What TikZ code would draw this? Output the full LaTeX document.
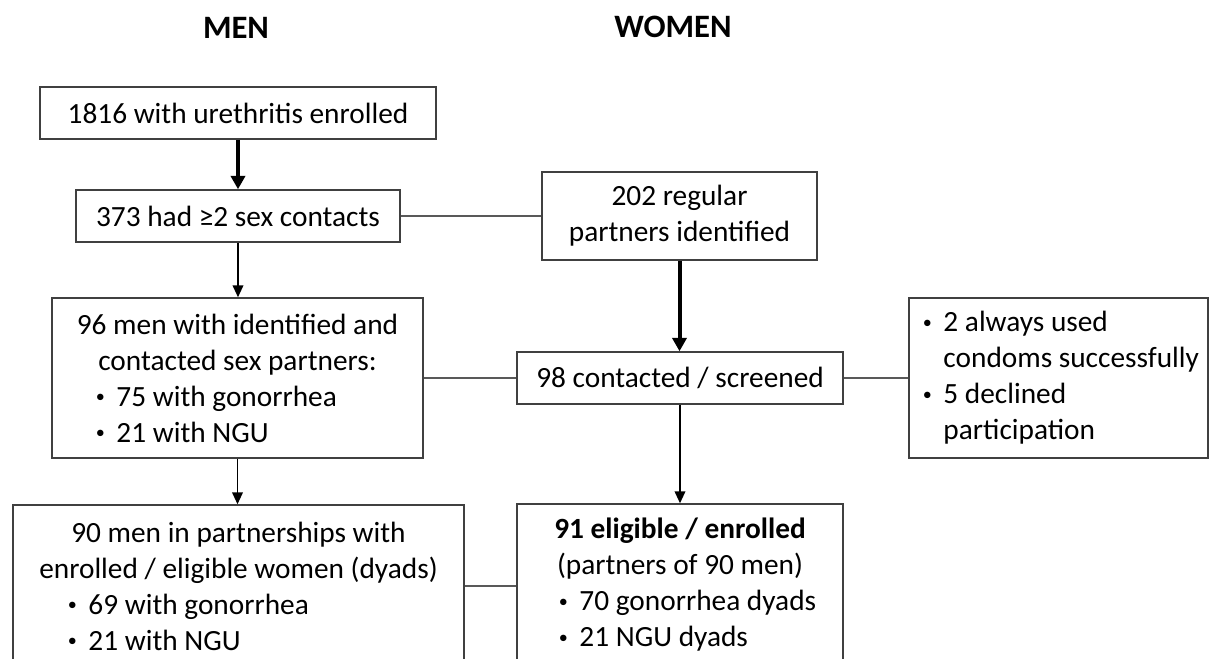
\documentclass[tikz,border=0pt]{standalone}
\usepackage{fontspec}
\usepackage{graphicx}
\setmainfont{Carlito}
\newfontfamily\dejavu{DejaVu Sans}
\usetikzlibrary{arrows.meta}
\definecolor{boxgray}{HTML}{404040}
\definecolor{linegray}{HTML}{595959}
\newlength\pxu \setlength\pxu{0.75pt}
\newcommand\bul{\makebox[0.8em][l]{\makebox[0.5em][c]{\raisebox{0.13em}{\scalebox{0.62}{•}}}}}
\newcommand\gesym{\iffontchar\font"2265 \symbol{"2265}\else{\dejavu\symbol{"2265}}\fi}
\newcommand\lline[3]{\makebox[#1\pxu][l]{\hspace*{#2\pxu}#3}}
\begin{document}
\begin{tikzpicture}[x=0.75pt,y=-0.75pt,
  box/.style={draw=boxgray, line width=1.1pt, inner sep=0pt, align=center,
    font=\fontsize{22}{27}\selectfont, text=black},
  conn/.style={draw=linegray, line width=1pt},
  thinarrow/.style={draw=black, line width=1.3pt, -{Triangle[width=8pt,length=9pt]}},
  thickarrow/.style={draw=black, line width=3pt, -{Triangle[width=10.5pt,length=10pt]}},
  title/.style={font=\bfseries\fontsize{24.5}{28}\selectfont, text=black}]
\useasboundingbox (0,0) rectangle (1210,658);
\clip (0,0) rectangle (1210,658);
\fill[white] (0,0) rectangle (1210,658);

\node[title] (tm) at (236,28) {MEN};
\node[title] (tw) at (673,27) {WOMEN};

\node[box, minimum width=396\pxu, minimum height=52\pxu] (b1) at (238,113)
  {1816 with urethritis enrolled};
\node[box, minimum width=324\pxu, minimum height=52\pxu] (b2) at (238,216)
  {373 had \gesym2 sex contacts};
\node[box, minimum width=275\pxu, minimum height=88\pxu] (b3) at (679.5,216)
  {202 regular\\partners identified};
\node[box, minimum width=371\pxu, minimum height=160\pxu] (b4) at (237.5,378)
  {96 men with identified and\\contacted sex partners:\\
   \lline{371}{41}{\bul 75 with gonorrhea}\\
   \lline{371}{41}{\bul 21 with NGU}};
\node[box, minimum width=326\pxu, minimum height=52\pxu] (b5) at (680,378)
  {98 contacted / screened};
\node[box, minimum width=299\pxu, minimum height=160\pxu] (b6) at (1058.5,378)
  {\lline{299}{11}{\bul 2 always used}\\
   \lline{299}{11}{\hspace*{0.8em}condoms successfully}\\
   \lline{299}{11}{\bul 5 declined}\\
   \lline{299}{11}{\hspace*{0.8em}participation}};
\node[box, minimum width=451\pxu, minimum height=162\pxu] (b7) at (238.5,586)
  {90 men in partnerships with\\enrolled / eligible women (dyads)\\
   \lline{451}{52}{\bul 69 with gonorrhea}\\
   \lline{451}{52}{\bul 21 with NGU}};
\node[box, minimum width=326\pxu, minimum height=162\pxu] (b8) at (680,585)
  {\textbf{91 eligible / enrolled}\\(partners of 90 men)\\
   \lline{326}{39}{\bul 70 gonorrhea dyads}\\
   \lline{326}{39}{\bul 21 NGU dyads}};

\draw[thickarrow] (b1.south) -- (b2.north);
\draw[thinarrow] (b2.south) -- (b2.south |- b4.north);
\draw[thinarrow] (b4.south) -- (b4.south |- b7.north);
\draw[conn] (b2.east) -- (b3.west);
\draw[thickarrow] (b3.south) -- (b3.south |- b5.north);
\draw[conn] (b4.east) -- (b5.west);
\draw[conn] (b5.east) -- (b6.west);
\draw[thinarrow] (b5.south) -- (b8.north);
\draw[conn] (b7.east) -- (b7.east -| b8.west);
\end{tikzpicture}
\end{document}
